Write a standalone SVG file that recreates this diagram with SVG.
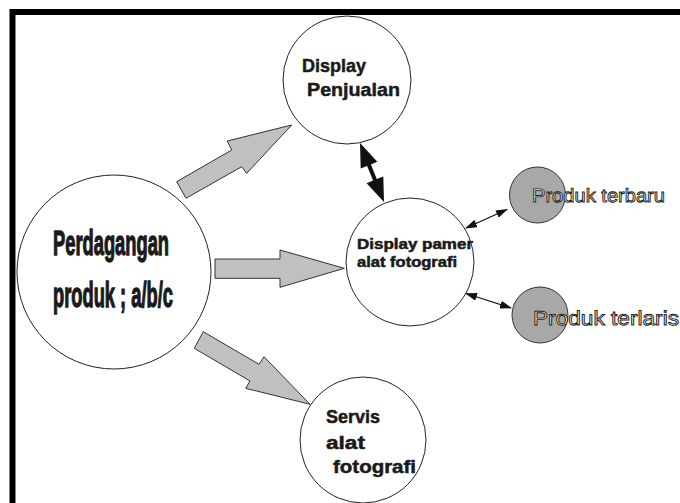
<svg xmlns="http://www.w3.org/2000/svg" width="680" height="503" viewBox="0 0 680 503">
<style>
.node{fill:#fff;stroke:#222;stroke-width:1}
.small{fill:#a8a8a8;stroke:#333;stroke-width:1}
.block{fill:#c0c0c0;stroke:#333;stroke-width:1;stroke-linejoin:miter}
.t{font-family:"Liberation Sans",Arial,sans-serif;font-weight:bold;fill:#1a1a1a;stroke:#1a1a1a;stroke-width:0.5}
.big{stroke-width:1.3}
.o{font-family:"Liberation Sans",Arial,sans-serif;fill:#fff;stroke:#222;stroke-width:0.9;text-rendering:geometricPrecision}
.thin{stroke:#111;stroke-width:1.2;fill:none}
</style>
<defs>
<marker id="h" viewBox="0 0 12 8" refX="11" refY="4" markerWidth="12" markerHeight="8" markerUnits="userSpaceOnUse" orient="auto-start-reverse">
<path d="M0,0 L12,4 L0,8 Z" fill="#111"/>
</marker>
</defs>
<rect width="680" height="503" fill="#fff"/>
<path d="M12.5,503 V12 H680" fill="none" stroke="#000" stroke-width="6"/>

<g id="connectors">
<polygon class="block" points="176.7,181.7 231.7,150 227.3,141 291.7,125 246.7,173.3 241.7,166.7 186,198.3"/>
<polygon class="block" points="215,259 280,259 280,250 344.3,268.3 280,287.3 280,278.3 215,278.3"/>
<polygon class="block" points="203.3,331.7 259,364.3 264,356.7 310,404.3 245.7,388.3 250,381 194.3,348.3"/>
<polygon fill="#111" points="360,143 377.3,161.8 370.9,164.4 376.8,179.0 383.3,176.4 384,202 366.6,183.2 373.1,180.6 367.1,166.0 360.7,168.6"/>
<line class="thin" x1="466" y1="228" x2="507" y2="209.5" marker-start="url(#h)" marker-end="url(#h)"/>
<line class="thin" x1="466" y1="293.5" x2="511" y2="308" marker-start="url(#h)" marker-end="url(#h)"/>
</g>

<g id="perdagangan">
<circle class="node" cx="114" cy="272" r="97"/>
<text class="t big" x="53" y="255" font-size="35" textLength="116" lengthAdjust="spacingAndGlyphs">Perdagangan</text>
<text class="t big" x="53" y="307" font-size="35" textLength="120" lengthAdjust="spacingAndGlyphs">produk ; a/b/c</text>
</g>

<g id="display-penjualan">
<circle class="node" cx="347" cy="80" r="64"/>
<text class="t" x="302" y="72" font-size="19" textLength="64" lengthAdjust="spacingAndGlyphs">Display</text>
<text class="t" x="307" y="96" font-size="19" textLength="93" lengthAdjust="spacingAndGlyphs">Penjualan</text>
</g>

<g id="display-pamer">
<circle class="node" cx="410" cy="262" r="64"/>
<text class="t" x="357" y="249" font-size="14" textLength="116" lengthAdjust="spacingAndGlyphs">Display pamer</text>
<text class="t" x="357" y="267" font-size="14" textLength="100" lengthAdjust="spacingAndGlyphs">alat fotografi</text>
</g>

<g id="servis">
<circle class="node" cx="363" cy="440" r="63"/>
<text class="t" x="326" y="423" font-size="18" textLength="54" lengthAdjust="spacingAndGlyphs">Servis</text>
<text class="t" x="326" y="449" font-size="18" textLength="39" lengthAdjust="spacingAndGlyphs">alat</text>
<text class="t" x="333" y="473" font-size="18" textLength="83" lengthAdjust="spacingAndGlyphs">fotografi</text>
</g>

<g id="produk-terbaru">
<circle class="small" cx="537.5" cy="195" r="28"/>
<text class="o" x="532" y="201.5" font-size="19" textLength="133" lengthAdjust="spacingAndGlyphs">Produk terbaru</text>
</g>

<g id="produk-terlaris">
<circle class="small" cx="540" cy="315" r="28"/>
<text class="o" x="533" y="325" font-size="20" textLength="146" lengthAdjust="spacingAndGlyphs">Produk terlaris</text>
</g>
</svg>
